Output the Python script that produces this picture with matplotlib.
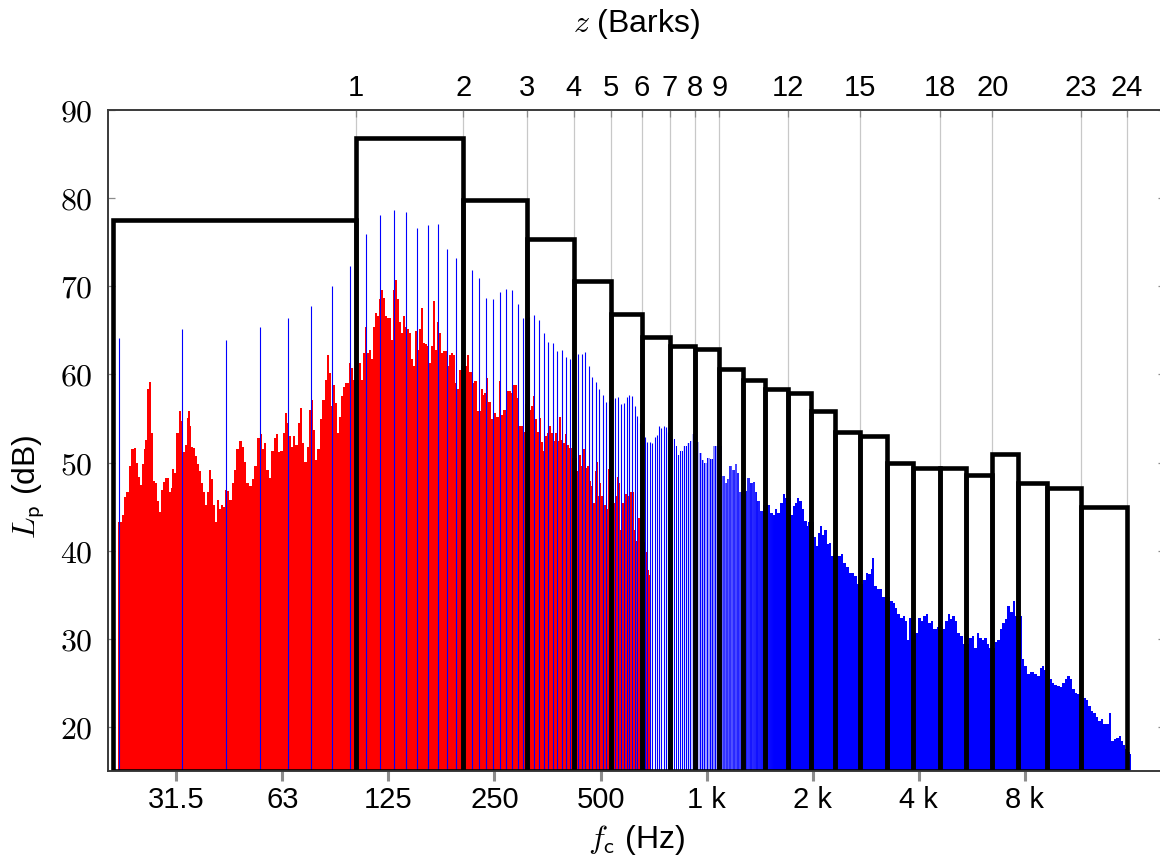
import numpy as np
import matplotlib
matplotlib.use("Agg")
import matplotlib.pyplot as plt
from matplotlib import font_manager
from matplotlib.ticker import NullLocator


def first_font(names):
    for name in names:
        try:
            font_manager.findfont(font_manager.FontProperties(family=name),
                                  fallback_to_default=False)
            return name
        except Exception:
            pass
    return "DejaVu Sans"


SANS = first_font(["Liberation Sans", "Arial", "DejaVu Sans"])
plt.rcParams["font.family"] = [SANS, "DejaVu Sans"]
plt.rcParams["mathtext.fontset"] = "cm"

# ── Bark bands (edges in Hz, band level in dB) ───────────────────────────────
bark_edges = [20.7, 101, 204, 310, 420, 534, 656, 786, 926, 1086, 1265, 1465,
              1703, 1983, 2314, 2726, 3245, 3853, 4582, 5448, 6469, 7666,
              9228, 11525, 15564]
bark_levels = [77.5, 86.8, 79.8, 75.4, 70.6, 66.8, 64.2, 63.2, 62.9, 60.6,
               59.4, 58.4, 57.9, 55.8, 53.5, 53.0, 50.0, 49.4, 49.4, 48.6,
               51.0, 47.7, 47.1, 45.0]
bark_tick_idx = [1, 2, 3, 4, 5, 6, 7, 8, 9, 12, 15, 18, 20, 23, 24]

# ── octave ticks ─────────────────────────────────────────────────────────────
oct_f = [31.25, 62.5, 125, 250, 500, 1000, 2000, 4000, 8000]
oct_labels = ["31.5", "63", "125", "250", "500", "1 k", "2 k", "4 k", "8 k"]

# ── red spectrum (narrow band, < 700 Hz) ─────────────────────────────────────
red_f = [21.39, 21.86, 22.20, 22.52, 22.89, 23.21, 23.65, 23.98, 24.32, 24.62,
         24.94, 25.27, 25.55, 25.88, 26.17, 26.45, 26.80, 27.15, 27.51, 27.87,
         28.24, 28.58, 28.96, 29.34, 29.72, 30.11, 30.38, 30.81, 31.28, 31.76,
         32.22, 32.64, 33.03, 33.43, 33.73, 34.13, 34.50, 34.92, 35.39, 35.85,
         36.32, 36.80, 37.28, 37.78, 38.27, 38.78, 39.29, 39.80, 40.33, 40.86,
         41.40, 41.94, 42.49, 43.05, 43.62, 44.19,
         44.86, 45.45, 46.15, 47.06, 47.89, 48.67, 49.31, 50.12, 51.12, 51.96,
         52.94, 53.93, 54.70, 55.43, 56.17, 57.13, 58.10, 59.03, 59.93, 60.72,
         61.65, 62.60, 63.56, 64.54, 65.38, 66.25, 67.12, 68.01, 69.04, 70.11,
         71.03, 72.12, 73.39, 74.52, 75.50, 76.50, 77.50, 78.53, 79.71, 81.11,
         82.36, 83.44, 84.54, 85.66, 86.79, 87.94, 89.11, 90.29, 91.49, 92.70,
         93.93, 95.17, 96.43, 97.71, 99.0,
         103.3, 104.6, 106.0, 107.4, 108.8, 110.2, 111.7, 113.2, 114.7, 116.2,
         117.7, 119.2, 120.8, 122.4, 124.0, 125.6, 127.3, 129.0, 130.7, 132.4,
         134.1, 135.9, 137.7, 139.5, 141.3, 143.2, 145.1, 147.0, 148.9, 150.9,
         152.9, 154.9, 156.9, 159.0, 161.1, 163.2, 165.3, 167.5, 169.7, 172.0,
         174.2, 176.5, 178.8, 181.2, 183.6, 186.0, 188.4, 190.9, 193.4, 196.0,
         198.5, 201.0, 209.2, 212.0,
         215.2, 219.0, 222.3, 225.2, 228.2, 231.2, 234.2, 237.3, 240.4, 243.6,
         246.8, 250.0, 253.3, 256.7, 260.1, 263.5, 266.9, 270.4, 274.0, 277.6,
         281.3, 285.0, 288.7, 292.5, 296.4, 300.3, 304.2, 310.0, 317.8, 322.0,
         326.2, 330.5, 334.8, 339.2, 343.7, 348.2, 352.8, 357.4, 362.1, 366.9,
         371.7, 376.6, 381.6, 386.6, 391.7, 396.8, 402.1, 407.4, 414.0, 429.2,
         434.9, 440.6, 446.4, 452.3, 458.2, 464.2,
         471.3, 477.5, 481.1, 485.4, 490.7, 496.0, 501.5, 507.0, 512.6, 518.2,
         523.9, 530.0, 544.8, 550.8, 556.9, 563.0, 569.2, 575.4, 581.7, 588.1,
         594.6, 601.1, 607.7, 614.4, 622.5, 630.7, 638.3, 648.0, 669.4, 677.3,
         684.7, 691.4]
red_L = [43.2, 44.0, 46.1, 46.6, 49.6, 51.5, 51.7, 50.0, 48.4, 47.5,
         49.8, 51.5, 52.6, 58.3, 59.1, 53.4, 47.9, 47.7, 45.6, 44.4,
         46.9, 47.8, 48.3, 48.2, 46.6, 47.1, 49.3, 48.8, 53.4, 55.9,
         54.7, 51.2, 52.0, 55.1, 55.8, 54.1, 51.8, 51.7, 50.7, 49.8,
         49.0, 47.7, 46.6, 45.2, 46.6, 49.2, 48.1, 45.2, 43.3, 45.8,
         44.7, 45.2, 44.9, 46.9, 46.8, 45.8,
         47.7, 49.2, 51.5, 52.4, 51.8, 50.1, 47.7, 47.3, 48.1, 49.6,
         52.8, 53.2, 51.5, 52.2, 49.2, 48.3, 51.3, 52.8, 53.2, 51.2,
         51.3, 53.4, 55.6, 54.5, 53.0, 51.8, 53.0, 52.0, 54.5, 56.2,
         52.2, 50.1, 51.8, 56.0, 57.1, 53.7, 50.3, 51.5, 54.9, 57.1,
         59.4, 62.2, 60.2, 56.4, 58.8, 56.8, 53.4, 55.2, 57.5, 58.6,
         59.0, 59.0, 61.3, 60.7, 59.4,
         61.3, 59.4, 62.4, 65.4, 62.4, 62.8, 61.7, 65.4, 67.0, 66.6,
         68.5, 69.6, 68.7, 66.6, 66.4, 66.4, 63.9, 69.6, 70.7, 68.5,
         66.0, 64.7, 66.6, 65.4, 65.1, 64.7, 61.7, 60.9, 64.9, 62.8,
         65.1, 67.5, 63.6, 63.4, 63.2, 61.3, 63.2, 68.3, 62.8, 66.0,
         64.7, 62.4, 62.6, 62.6, 60.9, 62.2, 62.4, 62.2, 59.0, 58.3,
         60.5, 61.0, 62.2, 60.3,
         59.0, 59.2, 55.8, 55.8, 58.3, 57.7, 57.9, 59.6, 56.9, 54.9,
         55.2, 55.6, 55.2, 59.2, 55.4, 56.0, 56.0, 58.1, 58.1, 57.9,
         58.8, 58.8, 57.3, 54.2, 54.1, 53.5, 56.6, 56.0, 56.4, 57.5,
         54.9, 53.5, 55.0, 52.3, 51.3, 53.0, 53.4, 54.1, 53.4, 52.4,
         53.4, 52.4, 55.2, 52.6, 52.2, 53.2, 52.0, 51.6, 50.5, 49.0,
         50.9, 49.6, 51.5, 49.4, 49.6, 47.9,
         47.3, 45.4, 49.0, 50.1, 46.2, 47.7, 46.2, 46.2, 45.2, 44.7,
         49.3, 47.0, 45.4, 46.2, 48.4, 47.7, 42.4, 45.4, 44.7, 46.4,
         46.2, 45.9, 46.6, 46.6, 42.4, 41.1, 43.7, 41.0, 39.9, 37.8,
         37.2, 36.7]
red_end = 695.0

# ── blue spectrum: harmonic lines (f0 = 10.78 Hz) up to 800 Hz ───────────────
f0 = 10.78
blue_line_L = [64.1, 65.2, 63.9, 65.4, 66.4, 67.8, 70.0, 72.3, 75.9, 78.1,
               78.7, 78.4, 76.6, 77.0, 77.1, 74.2, 73.2, 72.5, 71.9, 70.9,
               68.7, 68.5, 69.3, 69.7, 69.6, 68.0, 66.4, 66.5, 66.7, 66.2,
               64.7, 63.7, 63.6, 62.6, 62.8, 62.0, 61.7, 62.0, 62.3, 62.3,
               62.5, 61.0, 59.7, 59.1, 58.3, 57.7, 56.9, 57.0, 57.2, 57.3,
               57.4, 56.6, 56.8, 57.4, 57.7, 57.5, 56.4, 55.3, 54.5, 53.5,
               52.9, 52.3, 52.3, 52.2, 52.9, 53.1, 54.2, 53.9, 54.2, 54.0,
               53.5, 53.0, 52.7]
first_harmonic = 2

# ── blue spectrum above 800 Hz (dense lines, read as envelope) ───────────────
blue_f = [805, 814, 826.5, 841, 859.6, 878.5, 897.8, 907.7, 941.9, 954.3,
          968.9, 983.8, 1001, 1023, 1045.7, 1064, 1106.6, 1128.4, 1145.7, 1160.8,
          1178.7, 1204.7, 1217.9, 1233.9, 1294.4, 1305.7, 1328.8, 1352.1, 1372.9, 1394,
          1418.4, 1443.4, 1491.3, 1514.2, 1540.8, 1564.5, 1588.6, 1616.4, 1652, 1670,
          1733.1, 1755.8, 1782.8, 1810.2, 1833.9, 1862, 1890.7, 1923.8, 1945, 2018.4,
          2044.8, 2067.2, 2099, 2122, 2154.6, 2192.5, 2221.3, 2250.5, 2366.1, 2407.7,
          2444.8, 2487.7, 2542.6, 2581.5, 2621.2, 2667.3, 2786, 2835, 2878.5, 2922.8,
          2954.7, 2993.6, 3039.5, 3092.9, 3140.4, 3316, 3374.3, 3426.2, 3478.8, 3540,
          3579, 3618, 3657, 3698, 3763, 3821, 3929, 3990, 4051, 4122,
          4195, 4260, 4325, 4401, 4498, 4678, 4749, 4832, 4907, 4982,
          5070, 5148, 5239, 5331, 5569, 5654, 5742, 5843, 5933, 6037,
          6131, 6239, 6321, 6590, 6692, 6810, 6915, 7037, 7145, 7271,
          7383, 7481, 7854, 7976, 8117, 8260, 8387, 8517, 8667, 8819,
          8955, 9054, 9421, 9567, 9714, 9886, 10060, 10216, 10374, 10557,
          10743, 10909, 11078, 11273, 11733, 11940, 12125, 12312, 12530, 12751,
          12948, 13148, 13380, 13616, 13827, 14041, 14289, 14541, 14766, 14994,
          15193, 15428, 15667, 15874]
blue_L = [52.7, 51.9, 50.9, 51.3, 51.9, 52.2, 52.4, 53.2, 52.3, 51.1,
          50.3, 50.0, 50.5, 50.4, 51.9, 51.9, 48.5, 47.7, 48.1, 49.6,
          49.2, 49.8, 48.8, 46.6, 46.8, 48.3, 47.7, 47.8, 46.6, 45.6,
          44.5, 45.2, 45.2, 44.3, 44.1, 44.7, 44.3, 45.4, 46.4, 46.0,
          44.1, 45.1, 45.4, 46.0, 45.6, 44.7, 43.4, 42.8, 43.2, 41.5,
          40.5, 42.0, 42.8, 41.8, 42.4, 40.7, 40.9, 39.4, 39.4, 39.6,
          38.6, 38.1, 37.5, 37.5, 37.1, 36.2, 36.7, 37.5, 37.3, 37.9,
          39.2, 36.0, 35.6, 35.6, 34.7, 34.3, 34.1, 33.5, 32.8, 32.4,
          32.4, 32.6, 32.0, 29.9, 32.4, 30.7, 30.7, 32.4, 32.0, 32.6,
          32.8, 31.8, 32.0, 31.1, 31.3, 31.1, 32.0, 32.8, 32.2, 32.6,
          32.0, 30.7, 30.3, 29.4, 30.1, 30.3, 29.0, 30.7, 30.1, 29.9,
          30.1, 29.4, 29.0, 29.6, 29.9, 31.1, 31.8, 32.2, 33.7, 33.0,
          34.3, 32.6, 27.7, 26.9, 26.0, 26.2, 26.2, 26.0, 25.8, 26.7,
          26.9, 26.5, 25.4, 25.0, 24.8, 24.7, 24.5, 25.0, 25.4, 25.8,
          25.4, 24.3, 23.9, 23.7, 23.3, 23.0, 22.4, 21.8, 21.6, 21.1,
          20.7, 20.9, 20.3, 20.3, 21.6, 18.4, 18.6, 18.8, 19.0, 18.4,
          17.9, 17.5, 17.1, 16.9]
blue_end = 16000.0

Y_MIN, Y_MAX = 15, 90
FS = 21        # tick labels
FS_LAB = 23    # axis labels
DPI = 100

fig = plt.figure(figsize=(11.6, 8.61), dpi=DPI)
ax = fig.add_axes([108 / 1160, 90 / 861, 1057 / 1160, 661 / 861])
ax.set_xscale("log")
ax.set_xlim(20, 20000)
ax.set_ylim(Y_MIN, Y_MAX)

# grid at the labelled Bark edges
bark_tick_f = [bark_edges[i] for i in bark_tick_idx]
ax.vlines(bark_tick_f, Y_MIN, Y_MAX, color="#c8c8c8", lw=0.9, zorder=0.5)

# spectra
ax.fill_between(red_f + [red_end], red_L + [red_L[-1]], Y_MIN, step="post",
                color="#ff0000", lw=0, zorder=2)
harm = f0 * np.arange(first_harmonic, first_harmonic + len(blue_line_L))
ax.vlines(harm, Y_MIN, blue_line_L, color="#0000ff", lw=0.8, zorder=3)
ax.fill_between(blue_f + [blue_end], blue_L + [blue_L[-1]], Y_MIN, step="post",
                color="#0000ff", lw=0, zorder=2)

# white gaps between the still-resolved harmonics (800 Hz - 1.6 kHz):
# gap width = harmonic spacing on screen minus ~1 px of line
n_gap = np.arange(74, 150)
px_per_oct = ax.get_window_extent().width / np.log2(20000 / 20)
gap_px = np.clip(px_per_oct * np.log2((n_gap + 1) / n_gap) - 1.05, 0, None)
ax.vlines(f0 * (n_gap + 0.5), Y_MIN, 54, color="white",
          lw=gap_px * 72 / DPI, zorder=2.5)

# Bark band levels
ax.bar(bark_edges[:-1], np.array(bark_levels) - Y_MIN, width=np.diff(bark_edges),
       bottom=Y_MIN, align="edge", fill=False, edgecolor="black", lw=3.3,
       zorder=4)

# axes cosmetics
for s in ax.spines.values():
    s.set_color("#3a3a3a")
    s.set_linewidth(1.2)
ax.set_xticks(oct_f)
ax.set_xticklabels(oct_labels)
ax.xaxis.set_minor_locator(NullLocator())
ax.tick_params(axis="x", direction="out", length=7, width=2.2, color="#8c8c8c",
               labelsize=FS, pad=4)
ax.set_yticks(range(20, 91, 10))
ax.set_yticklabels([f"${v}$" for v in range(20, 91, 10)])
ax.tick_params(axis="y", direction="in", left=True, right=True, length=5,
               width=0.9, color="#8c8c8c", labelsize=23, pad=11)
ax.set_xlabel(r"$f_\mathsf{c}$ (Hz)", fontsize=FS_LAB, labelpad=6)
ax.set_ylabel(r"$L_\mathsf{p}$ (dB)", fontsize=FS_LAB)
ax.yaxis.set_label_coords(-0.058, 0.43)

axt = ax.twiny()
axt.set_xscale("log")
axt.set_xlim(ax.get_xlim())
axt.set_xticks(bark_tick_f)
axt.set_xticklabels([str(i) for i in bark_tick_idx])
axt.xaxis.set_minor_locator(NullLocator())
axt.tick_params(axis="x", direction="in", length=5, width=0.9, color="#8c8c8c",
                labelsize=FS, pad=6)
axt.set_xlabel(r"$z$ (Barks)", fontsize=FS_LAB, labelpad=30)
for s in axt.spines.values():
    s.set_color("#3a3a3a")
    s.set_linewidth(1.2)

fig.savefig("out.png", dpi=DPI)
